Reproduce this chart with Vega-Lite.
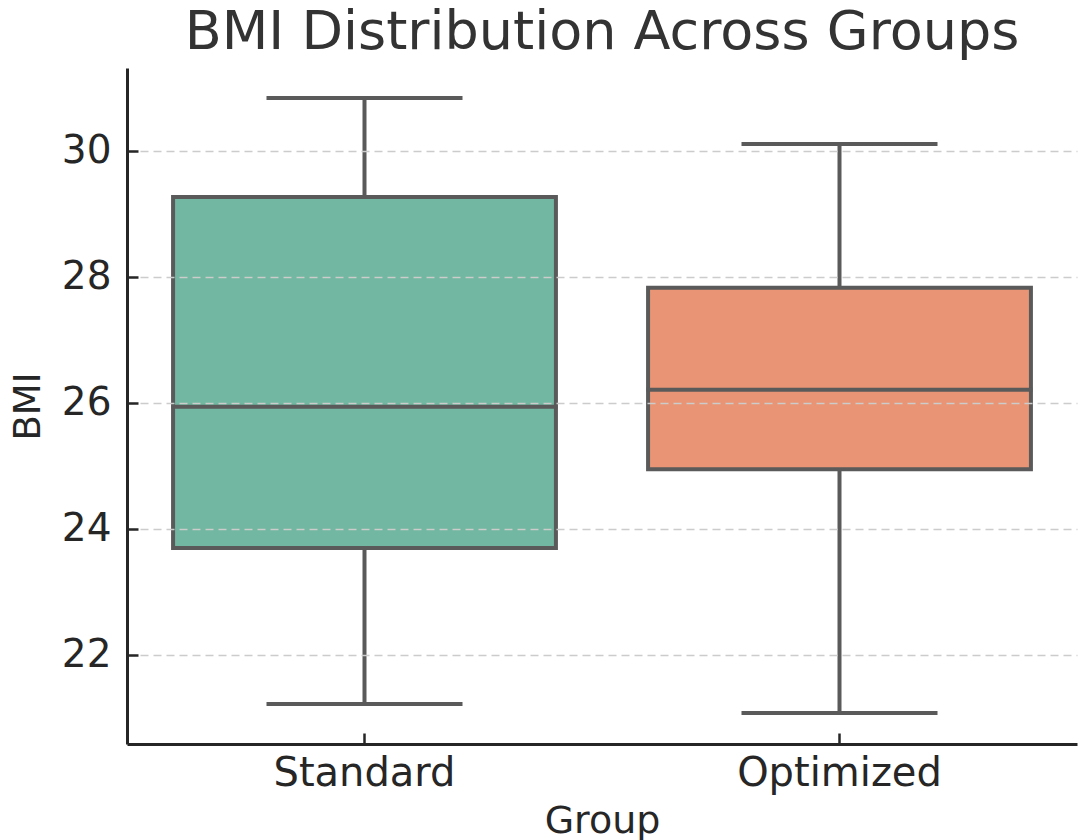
{
  "$schema": "https://vega.github.io/schema/vega-lite/v6.json",
  "autosize": "none",
  "padding": {"left": 127, "top": 68, "right": 2, "bottom": 96},
  "width": 950,
  "height": 676,
  "background": "white",
  "title": {"text": "BMI Distribution Across Groups", "fontSize": 54, "font": "DejaVu Sans", "fontWeight": "normal", "color": "#333333", "anchor": "middle", "offset": 8},
  "data": {"values": [
    {"group": "Standard", "min": 21.22, "q1": 23.70, "median": 25.94, "q3": 29.27, "max": 30.84},
    {"group": "Optimized", "min": 21.08, "q1": 24.95, "median": 26.21, "q3": 27.83, "max": 30.11}
  ]},
  "config": {
    "view": {"stroke": null},
    "axis": {"labelFont": "DejaVu Sans", "titleFont": "DejaVu Sans", "labelColor": "#262626", "titleColor": "#262626", "titleFontWeight": "normal", "domainColor": "#262626", "tickColor": "#262626", "domainWidth": 3, "tickWidth": 2.5, "labelLimit": 0}
  },
  "encoding": {
    "x": {"field": "group", "type": "nominal", "sort": ["Standard", "Optimized"],
      "scale": {"paddingInner": 0, "paddingOuter": 0},
      "axis": {"title": "Group", "labelFontSize": 40, "titleFontSize": 38, "labelAngle": 0, "tickSize": -11, "labelPadding": 20, "titlePadding": 9, "grid": false, "zindex": 1}}
  },
  "layer": [
    {"mark": {"type": "rule", "color": "#5a5a5a", "strokeWidth": 4},
     "encoding": {"y": {"field": "min", "type": "quantitative", "scale": {"domain": [20.587, 31.317], "nice": false, "zero": false},
        "axis": {"title": "BMI", "values": [22, 24, 26, 28, 30], "format": "d", "labelFontSize": 39, "titleFontSize": 37, "tickSize": -11, "labelPadding": 27, "titlePadding": 14,
          "grid": true, "gridColor": "#cccccc", "gridDash": [8, 5], "gridWidth": 1.5, "zindex": 1}},
      "y2": {"field": "max"}}},
    {"mark": {"type": "bar", "stroke": "#5a5a5a", "strokeWidth": 4, "width": {"band": 0.806}},
     "encoding": {"y": {"field": "q1", "type": "quantitative"}, "y2": {"field": "q3"},
      "color": {"field": "group", "type": "nominal", "scale": {"domain": ["Standard", "Optimized"], "range": ["#71b7a1", "#e99575"]}, "legend": null}}},
    {"mark": {"type": "tick", "color": "#5a5a5a", "thickness": 4, "size": 386, "opacity": 1},
     "encoding": {"y": {"field": "median", "type": "quantitative"}}},
    {"mark": {"type": "tick", "color": "#5a5a5a", "thickness": 4, "size": 196, "opacity": 1},
     "encoding": {"y": {"field": "min", "type": "quantitative"}}},
    {"mark": {"type": "tick", "color": "#5a5a5a", "thickness": 4, "size": 196, "opacity": 1},
     "encoding": {"y": {"field": "max", "type": "quantitative"}}}
  ]
}
